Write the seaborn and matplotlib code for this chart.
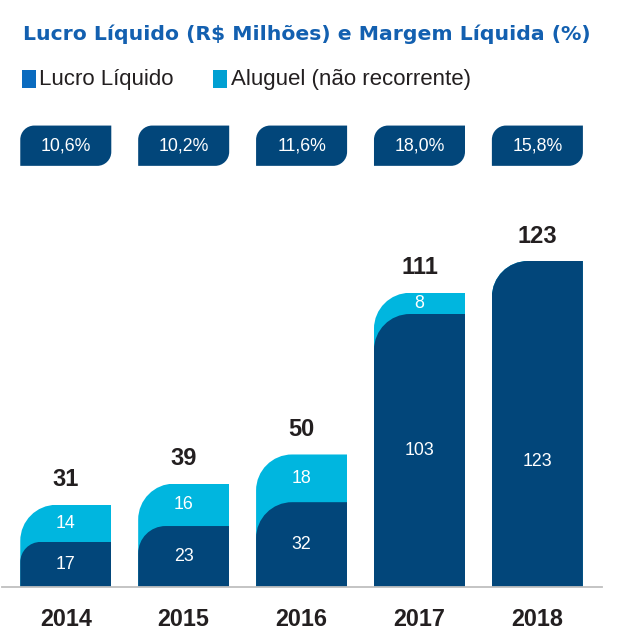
import numpy as np
import pandas as pd
import seaborn as sns
import matplotlib.pyplot as plt
from matplotlib.path import Path
from matplotlib.patches import PathPatch, Rectangle

# dados do grafico
anos = ["2014", "2015", "2016", "2017", "2018"]
lucro = [17, 23, 32, 103, 123]
aluguel = [14, 16, 18, 8, 0]
total = [31, 39, 50, 111, 123]
margem = ["10,6%", "10,2%", "11,6%", "18,0%", "15,8%"]

azul_escuro = "#02467A"
azul_claro = "#00B6DF"
titulo_cor = "#1360B0"
texto_cor = "#231F20"

sns.set_style("white")
plt.rcParams["font.family"] = ["Liberation Sans", "DejaVu Sans"]

df = pd.DataFrame({"ano": anos, "lucro": lucro, "total": total})

W, H = 642, 635
fig = plt.figure(figsize=(W / 100, H / 100), dpi=100)
ax = fig.add_axes([2 / W, 48 / H, 600 / W, 467 / H])

larg = 0.772
sns.barplot(data=df, x="ano", y="total", color=azul_claro, saturation=1,
            width=larg, errorbar=None, ax=ax)
sns.barplot(data=df, x="ano", y="lucro", color=azul_escuro, saturation=1,
            width=larg, errorbar=None, ax=ax)

ax.set_xlim(-0.541, 4.548)
ax.set_ylim(0, 176.2)

# pixels por unidade
px_x = 600 / (4.548 + 0.541)
px_y = 467 / 176.2
K = 0.5523


def canto_sup_esq(x0, y0, w, h, rx, ry):
    verts = [(x0, y0), (x0 + w, y0), (x0 + w, y0 + h), (x0 + rx, y0 + h),
             (x0 + rx - K * rx, y0 + h), (x0, y0 + h - ry + K * ry), (x0, y0 + h - ry),
             (x0, y0)]
    codes = [Path.MOVETO, Path.LINETO, Path.LINETO, Path.LINETO,
             Path.CURVE4, Path.CURVE4, Path.CURVE4, Path.CLOSEPOLY]
    return Path(verts, codes)


# arredondar canto superior esquerdo das barras
n = len(anos)
for i, bar in enumerate(ax.patches):
    x0, y0 = bar.get_x(), bar.get_y()
    w, h = bar.get_width(), bar.get_height()
    if h <= 0:
        continue
    hpx = h * px_y
    r = 36 if i < n else min(36, 0.45 * hpx)
    bar.set_clip_path(canto_sup_esq(x0, y0, w, h, r / px_x, r / px_y), ax.transData)
    bar.set_linewidth(0)

# rotulos dentro das barras
for i in range(n):
    if aluguel[i] > 0:
        y_l = lucro[i] / 2
        ax.text(i, lucro[i] + aluguel[i] / 2, str(aluguel[i]), ha="center", va="center",
                color="white", fontsize=12.8)
    else:
        y_l = lucro[i] * 0.385
    ax.text(i, y_l, str(lucro[i]), ha="center", va="center", color="white", fontsize=12.8)
    ax.text(i, total[i] + 25 / px_y, str(total[i]), ha="center", va="center",
            color=texto_cor, fontsize=17, fontweight="bold")

# caixas de margem liquida
yb0, yb1 = 158.9, 174.1
rb = 14
for i in range(n):
    x0, x1 = i - larg / 2, i + larg / 2
    rx, ry = rb / px_x, rb / px_y
    verts = [(x0, yb0), (x1 - rx, yb0),
             (x1 - rx + K * rx, yb0), (x1, yb0 + ry - K * ry), (x1, yb0 + ry),
             (x1, yb1), (x0 + rx, yb1),
             (x0 + rx - K * rx, yb1), (x0, yb1 - ry + K * ry), (x0, yb1 - ry),
             (x0, yb0)]
    codes = [Path.MOVETO, Path.LINETO,
             Path.CURVE4, Path.CURVE4, Path.CURVE4,
             Path.LINETO, Path.LINETO,
             Path.CURVE4, Path.CURVE4, Path.CURVE4,
             Path.CLOSEPOLY]
    ax.add_patch(PathPatch(Path(verts, codes), facecolor=azul_escuro, edgecolor="none",
                           clip_on=False))
    ax.text(i, (yb0 + yb1) / 2, margem[i], ha="center", va="center", color="white",
            fontsize=12.8)

# eixos
for s in ["top", "left", "right"]:
    ax.spines[s].set_visible(False)
ax.spines["bottom"].set_color("#BFBFBF")
ax.spines["bottom"].set_linewidth(1.3)
ax.set_yticks([])
ax.set_xlabel("")
ax.set_ylabel("")
ax.tick_params(axis="x", length=0, pad=15, labelsize=16.8, labelcolor=texto_cor)
for t in ax.get_xticklabels():
    t.set_fontweight("bold")

# titulo e legenda
fig.text(23 / W, 1 - 34.3 / H, "Lucro Líquido (R$ Milhões) e Margem Líquida (%)",
         ha="left", va="center", fontsize=14.7, fontweight="bold", color=titulo_cor,
         family="DejaVu Sans")
fig.patches.append(Rectangle((22.3 / W, 1 - 87.7 / H), 13.7 / W, 17.7 / H,
                             transform=fig.transFigure, facecolor="#0A6BBF", edgecolor="none"))
fig.text(39.3 / W, 1 - 79 / H, "Lucro Líquido", ha="left", va="center", fontsize=16,
         color=texto_cor)
fig.patches.append(Rectangle((213 / W, 1 - 87.7 / H), 13.7 / W, 17.7 / H,
                             transform=fig.transFigure, facecolor="#00A0D2", edgecolor="none"))
fig.text(230.7 / W, 1 - 79 / H, "Aluguel (não recorrente)", ha="left", va="center",
         fontsize=16, color=texto_cor)

fig.savefig("out.png", dpi=100)
